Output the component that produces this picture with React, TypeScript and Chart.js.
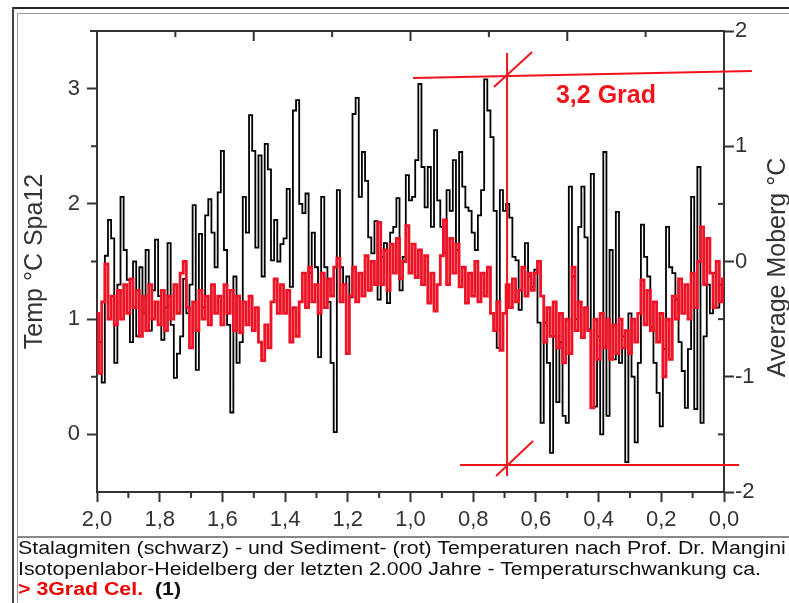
import React, { useEffect, useRef } from 'react';
import { Chart, registerables } from 'chart.js';

Chart.register(...registerables);

// Time axis: thousand years before present, 2,0 -> 0,0, one value every 0.01 ka
const KA_START = 2.0;
const KA_STEP = 0.01;

// Stalagmite Spa12 temperature (left axis, °C)
const SPA12 = [
  1.0, 0.8, 0.45, 1.55, 1.86, 1.7, 0.62, 1.3, 2.06, 1.6,
  1.34, 0.8, 1.5, 0.85, 1.45, 1.05, 1.6, 0.9, 1.25, 1.69,
  1.2, 0.82, 1.1, 1.66, 0.95, 0.49, 0.7, 0.85, 1.35, 1.05,
  1.3, 1.99, 0.56, 1.74, 1.1, 1.9, 2.04, 1.75, 1.45, 2.1,
  2.46, 1.6, 0.95, 0.19, 1.37, 0.62, 0.8, 2.06, 1.75, 2.77,
  2.46, 1.62, 2.42, 1.37, 2.52, 2.3, 1.51, 1.86, 1.5, 1.65,
  1.7, 2.13, 1.28, 2.81, 2.9, 2.0, 1.92, 2.09, 1.4, 1.75,
  1.45, 0.67, 2.06, 1.45, 1.15, 0.62, 0.02, 2.12, 1.45, 1.3,
  1.37, 1.19, 2.78, 2.92, 2.06, 2.45, 2.2, 1.71, 1.57, 1.85,
  1.17, 1.54, 1.66, 1.14, 1.75, 1.8, 2.05, 1.25, 1.54, 2.25,
  2.03, 2.06, 2.38, 3.04, 2.32, 1.97, 2.32, 1.8, 2.64, 2.03,
  1.8, 1.57, 2.12, 1.94, 2.38, 1.6, 2.45, 2.15, 1.97, 1.94,
  1.75, 1.6, 1.9, 2.12, 3.08, 2.81, 2.58, 1.94, 0.75, 2.12,
  1.94, 2.0, 1.88, 1.54, 1.51, 1.08, 1.45, 1.66, 1.37, 1.28,
  1.43, 0.97, 0.1, 0.97, 0.62, -0.16, 0.85, 0.28, 0.8, 0.16,
  0.1, 2.15, 1.37, 1.0, 1.8, 2.15, 1.71, 0.91, 2.26, 0.24,
  0.85, 0.0, 2.45, 0.16, 1.6, 0.65, 1.93, 0.62, 0.85, -0.24,
  1.05, 0.5, -0.07, 0.62, 1.82, 1.54, 1.37, 0.93, 0.62, 0.36,
  0.07, 0.74, 1.8, 1.45, 1.4, 1.17, 0.8, 0.55, 0.23, 0.74,
  2.06, 0.22, 2.32, 0.1, 0.85, 1.3, 1.05, 1.4, 1.1, 1.3, 1.2,
];

// Moberg average temperature anomaly (right axis, °C)
const MOBERG = [
  -0.45, -0.97, -0.35, -0.02, -0.5, -0.3, -0.55, -0.25, -0.5, -0.2,
  -0.45, -0.15, -0.4, -0.25, -0.65, -0.3, -0.6, -0.2, -0.5, -0.35,
  -0.55, -0.25, -0.6, -0.3, -0.5, -0.2, -0.45, -0.1, 0.0, -0.4,
  -0.75, -0.35, -0.6, -0.25, -0.5, -0.3, -0.55, -0.2, -0.45, -0.3,
  -0.55, -0.2, -0.45, -0.25, -0.6, -0.3, -0.62, -0.35, -0.55, -0.3,
  -0.6, -0.4, -0.7, -0.86, -0.55, -0.75, -0.35, -0.15, -0.45, -0.2,
  -0.45, -0.25, -0.7, -0.4, -0.65, -0.35, -0.1, -0.4, -0.05, -0.35,
  -0.2, -0.45, -0.1, -0.4, -0.15, -0.3, -0.05, 0.03, -0.35, -0.2,
  -0.8, -0.3, -0.05, -0.35, -0.1, -0.3, 0.05, -0.25, 0.0, -0.2,
  0.34, -0.2, 0.1, -0.25, 0.15, -0.1, 0.2, -0.15, 0.0, 0.31,
  -0.1, 0.15, -0.14, 0.1, -0.2, 0.05, -0.36, -0.1, -0.43, -0.2,
  0.05, 0.36, -0.2, 0.2, -0.1, 0.15, -0.22, -0.05, -0.36, -0.1,
  -0.3, 0.0, -0.35, -0.1, -0.3, -0.05, -0.45, -0.6, -0.35, -0.77,
  -0.45, -0.2, -0.4, -0.15, -0.35, -0.25, -0.05, -0.3, -0.1, -0.25,
  -0.1, 0.0, -0.3, -0.7, -0.4, -0.65, -0.35, -0.75, -0.45, -0.88,
  -0.5, -0.8, -0.05, -0.6, -0.35, -0.66, -0.4, -0.6, -1.27, -0.5,
  -0.85, -0.45, -0.75, -0.5, -0.85, -0.55, -0.8, -0.5, -0.75, -0.6,
  -0.8, -0.5, -0.7, -0.45, -0.16, -0.55, -0.25, -0.6, -0.35, -0.7,
  -0.45, -1.0, -0.5, -0.85, -0.3, -0.5, -0.15, -0.45, -0.2, -0.5,
  -0.1, -0.4, 0.0, 0.3, -0.2, 0.2, -0.1, -0.4, 0.0, -0.35, -0.15,
];

// Axis ticks
const X_TICKS = [2.0, 1.8, 1.6, 1.4, 1.2, 1.0, 0.8, 0.6, 0.4, 0.2, 0.0];
const X_MINOR = [1.9, 1.7, 1.5, 1.3, 1.1, 0.9, 0.7, 0.5, 0.3, 0.1];
const TOP_MAJOR = [1.5, 1.0, 0.5];
const TOP_MINOR = [1.75, 1.25, 0.75, 0.25];
const Y_TICKS = [0, 1, 2, 3];
const Y_MINOR = [0.5, 1.5, 2.5];
const Y2_TICKS = [-2, -1, 0, 1, 2];
const Y2_MINOR = [-1.5, -0.5, 0.5, 1.5];

const LEFT_TITLE = 'Temp °C Spa12';
const RIGHT_TITLE = 'Average Moberg °C';

// Hand-drawn red markup, in data units (ka, left-axis °C)
const MARKUP_SEGMENTS = [
  [0.992, 3.092, -0.089, 3.153],
  [0.692, 3.309, 0.692, -0.361],
  [0.734, 3.014, 0.612, 3.318],
  [0.842, -0.266, -0.048, -0.266],
  [0.727, -0.361, 0.609, -0.058],
];
const MARKUP_LABEL = '3,2 Grad';
const MARKUP_LABEL_AT = [0.536, 2.876];

const CAPTION_1 = 'Stalagmiten (schwarz) - und Sediment- (rot) Temperaturen nach Prof. Dr. Mangini';
const CAPTION_2 = 'Isotopenlabor-Heidelberg der letzten 2.000 Jahre - Temperaturschwankung ca.';
const CAPTION_RED = '> 3Grad Cel.';
const CAPTION_REF = '(1)';

const FONT = "'Liberation Sans', Arial, Helvetica, sans-serif";
const AXIS = '#333333';
const RED_DATA = '#ec1426';
const RED_MARK = '#f2141c';

const decor = {
  id: 'decor',
  afterDraw(chart: any) {
    const { ctx, chartArea: a, scales } = chart;
    const x = scales.x, y = scales.y, y2 = scales.y2;
    const seg = (x1: number, y1: number, x2: number, y2p: number) => {
      ctx.beginPath();
      ctx.moveTo(x1, y1);
      ctx.lineTo(x2, y2p);
      ctx.stroke();
    };
    ctx.save();
    ctx.strokeStyle = AXIS;
    ctx.lineWidth = 2;
    ctx.lineCap = 'butt';
    seg(a.left - 7, a.top, a.right + 1, a.top);
    TOP_MAJOR.forEach((v) => { const p = x.getPixelForValue(v); seg(p, a.top, p, a.top + 10); });
    TOP_MINOR.forEach((v) => { const p = x.getPixelForValue(v); seg(p, a.top, p, a.top + 6); });
    X_MINOR.forEach((v) => { const p = x.getPixelForValue(v); seg(p, a.bottom, p, a.bottom + 6); });
    Y_MINOR.forEach((v) => { const p = y.getPixelForValue(v); seg(a.left - 6, p, a.left, p); });
    Y2_MINOR.forEach((v) => { const p = y2.getPixelForValue(v); seg(a.right - 6, p, a.right, p); });

    ctx.fillStyle = AXIS;
    ctx.font = `25px ${FONT}`;
    ctx.textAlign = 'center';
    ctx.textBaseline = 'alphabetic';
    ctx.save();
    ctx.translate(42, (a.top + a.bottom) / 2);
    ctx.rotate(-Math.PI / 2);
    ctx.fillText(LEFT_TITLE, 0, 0);
    ctx.restore();
    ctx.save();
    ctx.translate(785, (a.top + a.bottom) / 2 + 6);
    ctx.rotate(-Math.PI / 2);
    ctx.fillText(RIGHT_TITLE, 0, 0);
    ctx.restore();

    ctx.strokeStyle = RED_MARK;
    ctx.lineWidth = 2;
    MARKUP_SEGMENTS.forEach(([ka1, v1, ka2, v2]) => {
      seg(x.getPixelForValue(ka1), y.getPixelForValue(v1), x.getPixelForValue(ka2), y.getPixelForValue(v2));
    });
    ctx.fillStyle = RED_MARK;
    ctx.font = `bold 25px ${FONT}`;
    ctx.textAlign = 'left';
    ctx.fillText(MARKUP_LABEL, x.getPixelForValue(MARKUP_LABEL_AT[0]), y.getPixelForValue(MARKUP_LABEL_AT[1]));
    ctx.restore();
  },
};

const toPoints = (vals: number[]) => vals.map((v, i) => ({ x: KA_START - i * KA_STEP, y: v }));

export default function App() {
  const ref = useRef<HTMLCanvasElement | null>(null);

  useEffect(() => {
    if (!ref.current) return;
    const tickFont = { family: FONT, size: 22 };
    const chart = new Chart(ref.current, {
      type: 'line',
      data: {
        datasets: [
          {
            label: 'Spa12',
            data: toPoints(SPA12),
            borderColor: '#000000',
            borderWidth: 1.8,
            pointRadius: 0,
            stepped: 'middle',
            yAxisID: 'y',
            order: 2,
          },
          {
            label: 'Moberg',
            data: toPoints(MOBERG),
            borderColor: RED_DATA,
            borderWidth: 2.8,
            pointRadius: 0,
            stepped: 'middle',
            yAxisID: 'y2',
            order: 1,
          },
        ],
      },
      options: {
        animation: false,
        responsive: false,
        devicePixelRatio: 1,
        layout: { padding: { top: 31, left: 0, right: 0, bottom: 0 } },
        plugins: { legend: { display: false }, tooltip: { enabled: false } },
        scales: {
          x: {
            type: 'linear',
            position: 'bottom',
            min: 0,
            max: 2,
            reverse: true,
            afterBuildTicks: (s: any) => { s.ticks = X_TICKS.map((v) => ({ value: v })); },
            afterFit: (s: any) => { s.height = 45; },
            ticks: {
              font: tickFont,
              color: AXIS,
              padding: 5,
              maxRotation: 0,
              autoSkip: false,
              callback: (v: any) => Number(v).toFixed(1).replace('.', ','),
            },
            grid: { drawOnChartArea: false, tickLength: 10, tickColor: AXIS, tickWidth: 2 },
            border: { display: true, color: AXIS, width: 2 },
          },
          y: {
            type: 'linear',
            position: 'left',
            min: -0.5,
            max: 3.5,
            afterBuildTicks: (s: any) => { s.ticks = Y_TICKS.map((v) => ({ value: v })); },
            afterFit: (s: any) => { s.width = 97; },
            ticks: { font: tickFont, color: AXIS, padding: 7, callback: (v: any) => String(v) },
            grid: { drawOnChartArea: false, tickLength: 10, tickColor: AXIS, tickWidth: 2 },
            border: { display: true, color: AXIS, width: 2 },
          },
          y2: {
            type: 'linear',
            position: 'right',
            min: -2,
            max: 2,
            afterBuildTicks: (s: any) => { s.ticks = Y2_TICKS.map((v) => ({ value: v })); },
            afterFit: (s: any) => { s.width = 65; },
            ticks: { font: tickFont, color: AXIS, padding: 1, callback: (v: any) => String(v) },
            grid: { drawOnChartArea: false, tickLength: 10, tickColor: AXIS, tickWidth: 2 },
            border: { display: true, color: AXIS, width: 2 },
          },
        },
      },
      plugins: [decor],
    } as any);
    return () => chart.destroy();
  }, []);

  const line = (style: React.CSSProperties) => <div style={{ position: 'absolute', ...style }} />;

  return (
    <div style={{ position: 'absolute', left: 0, top: 0, width: 789, height: 603, background: '#fff', overflow: 'hidden' }}>
      <canvas ref={ref} width={789} height={537} style={{ position: 'absolute', left: 0, top: 0, width: 789, height: 537, display: 'block' }} />
      {line({ left: 12, top: 7, width: 777, height: 2, background: '#222' })}
      {line({ left: 12, top: 7, width: 2, height: 596, background: '#444' })}
      {line({ left: 17, top: 13, width: 772, height: 1, background: '#9a9a9a' })}
      {line({ left: 17, top: 13, width: 1, height: 590, background: '#9a9a9a' })}
      {line({ left: 17, top: 536, width: 772, height: 2, background: '#888' })}
      <div
        style={{
          position: 'absolute',
          left: 18,
          top: 538,
          fontFamily: FONT,
          fontSize: 18,
          lineHeight: '20.5px',
          color: '#111',
          whiteSpace: 'nowrap',
          transform: 'scaleX(1.185)',
          transformOrigin: 'left top',
        }}
      >
        <div>{CAPTION_1}</div>
        <div>{CAPTION_2}</div>
        <div>
          <span style={{ color: '#ee0000', fontWeight: 'bold' }}>{CAPTION_RED}</span>
          <span style={{ fontWeight: 'bold', marginLeft: 10 }}>{CAPTION_REF}</span>
        </div>
      </div>
    </div>
  );
}
